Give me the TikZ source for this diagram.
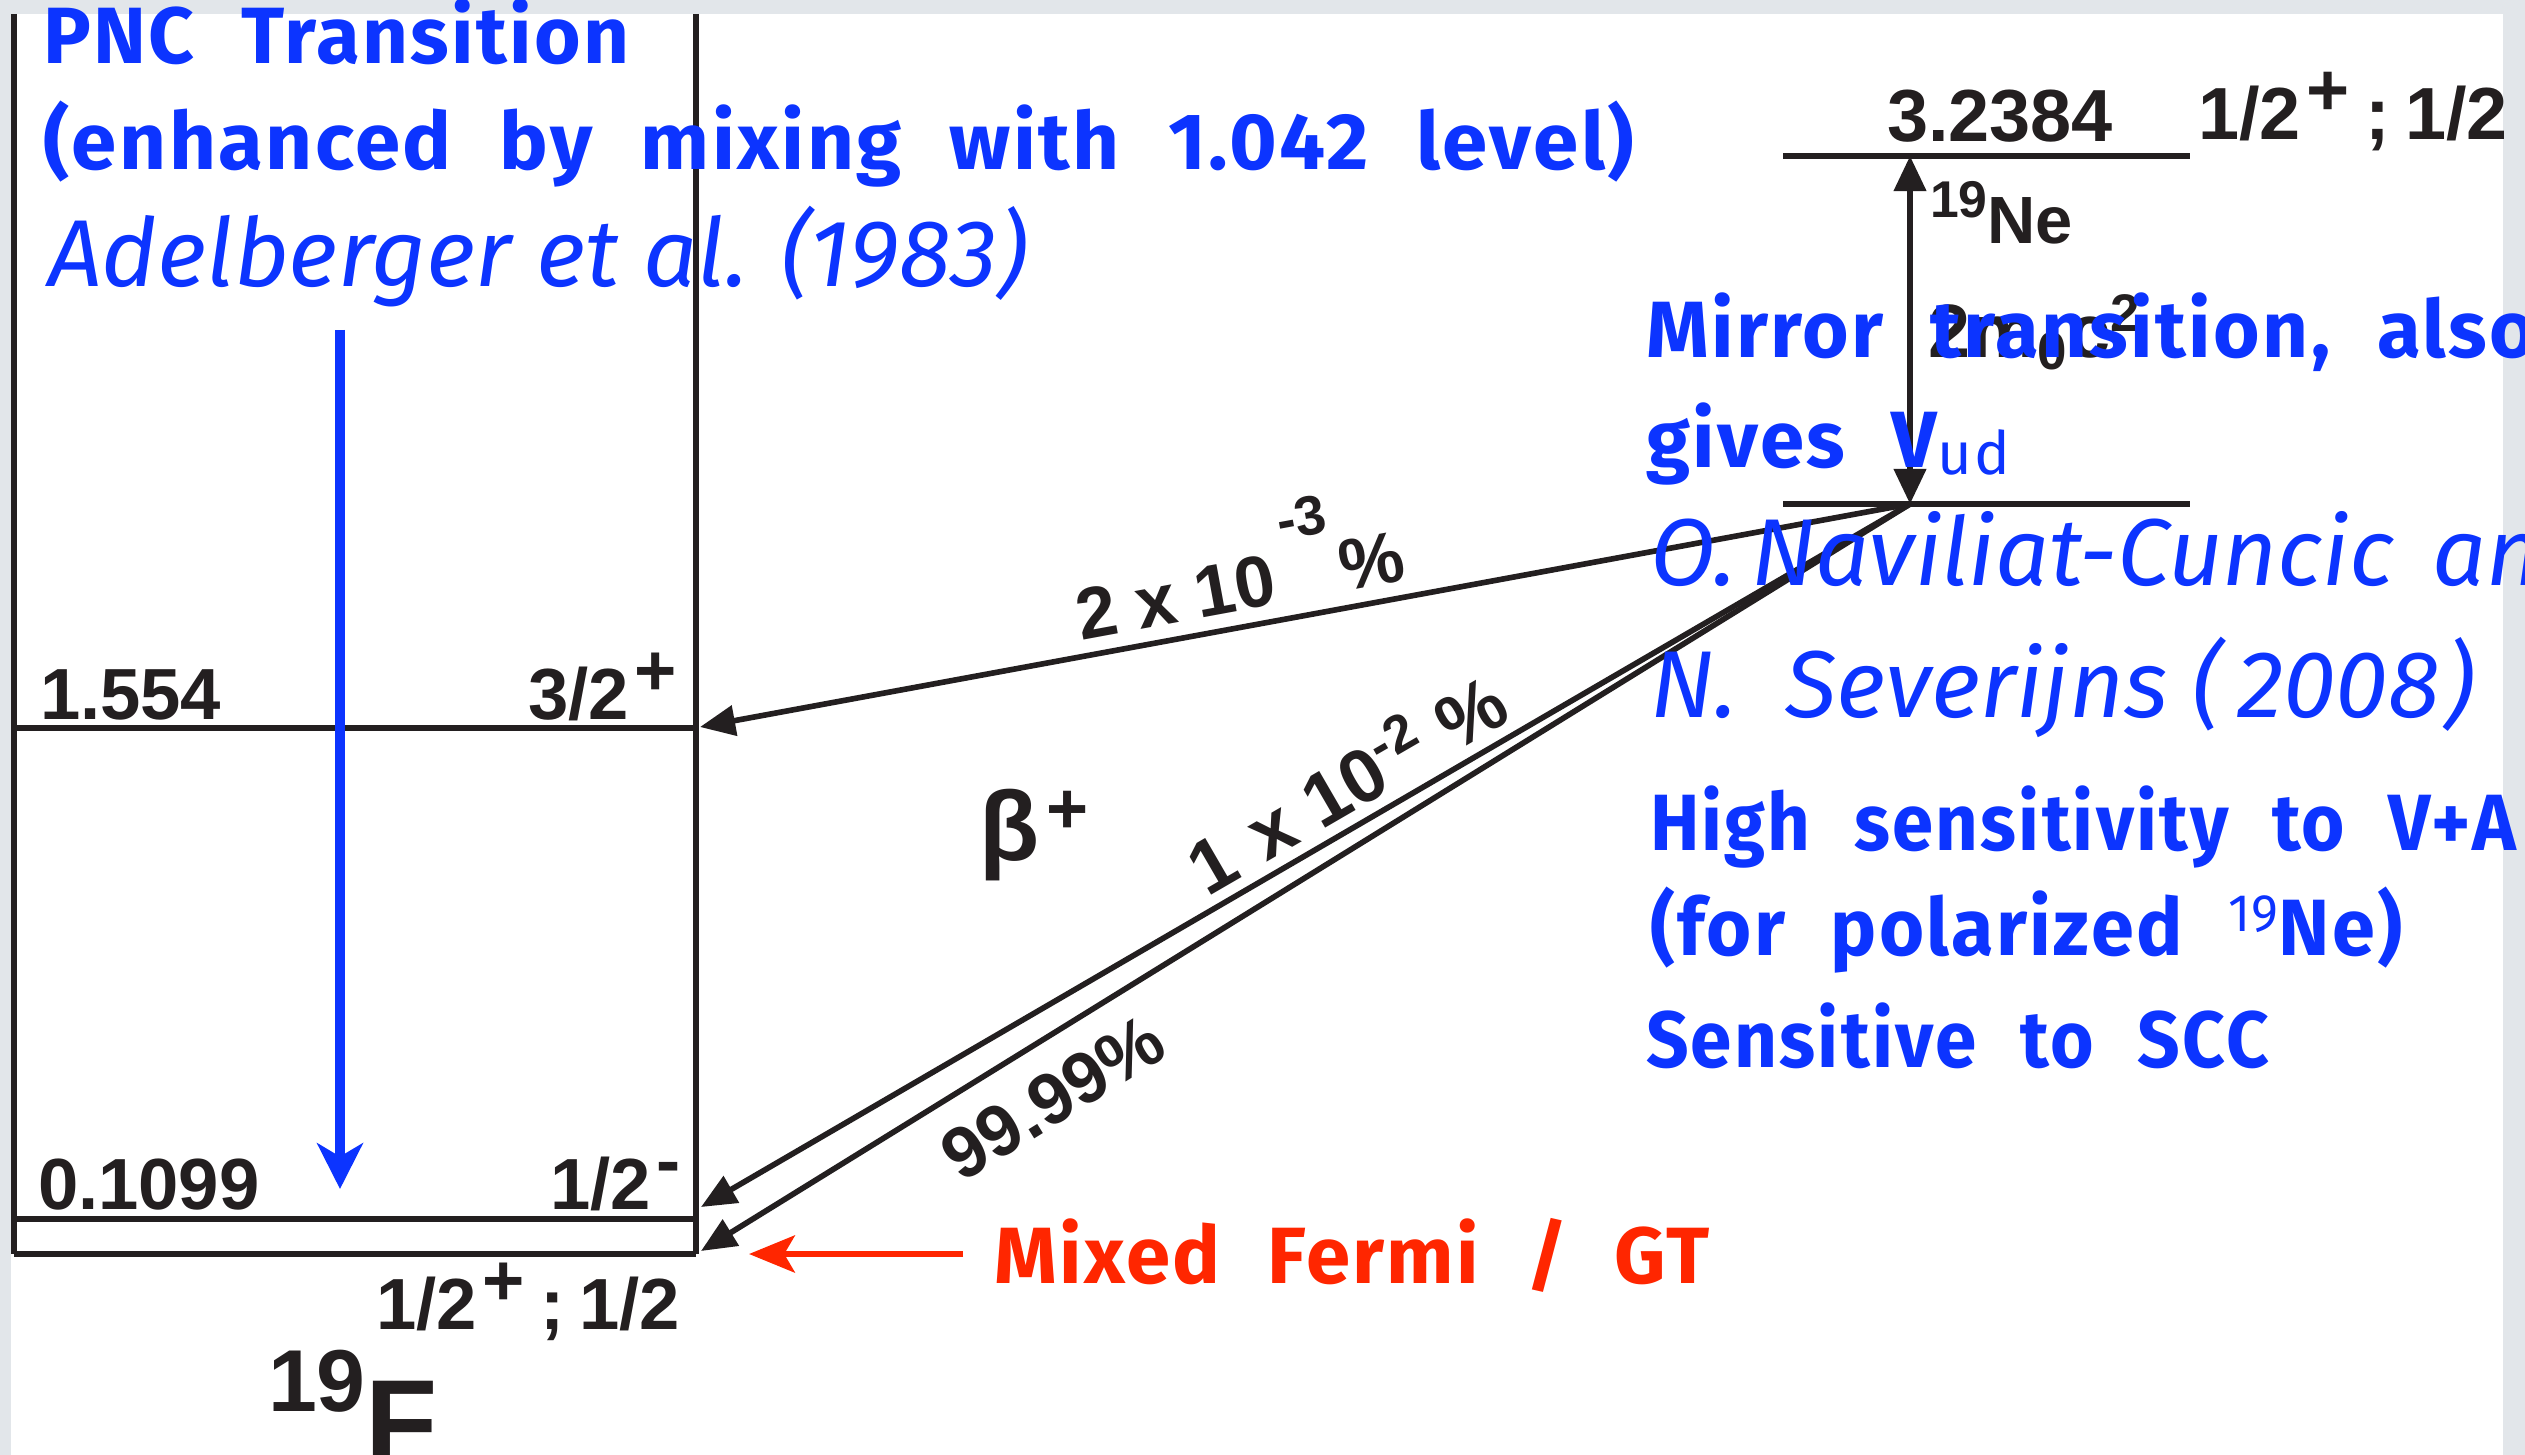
\documentclass[tikz,border=0pt]{standalone}
\usepackage{fontspec}
\setmainfont{Liberation Sans}
\newfontfamily\chalk{Fira Sans}[LetterSpace=3, WordSpace=2.2]
\newfontfamily\hand{Fira Sans}[LetterSpace=0, WordSpace=1.7]
\newfontfamily\handtight{Fira Sans}[LetterSpace=0, WordSpace=1.0]
\usetikzlibrary{arrows.meta}
\definecolor{bggray}{RGB}{226,230,234}
\definecolor{cblue}{RGB}{12,52,255}
\definecolor{cred}{RGB}{255,38,0}
\definecolor{ink}{RGB}{35,31,32}
\newcommand\fpt[1]{\fontsize{#1}{#1}\selectfont}
\newcommand\rsup[1]{\hspace{0.08em}\raisebox{0.33em}{#1}}
\newcommand\hsc[2]{\scalebox{#1}[1]{#2}}
\tikzset{
  lvl/.style={draw=ink, line width=1.9pt},
  trans/.style={draw=ink, line width=1.6pt, -{Triangle[length=10pt,width=8.5pt]}},
  lbl/.style={inner sep=0pt, outer sep=0pt, text=ink, font=\bfseries\fpt{20.6}},
  chalktxt/.style={inner sep=0pt, outer sep=0pt, anchor=base west, text=cblue, font=\chalk\bfseries\fpt{22.7}},
  handtxt/.style={inner sep=0pt, outer sep=0pt, anchor=base west, text=cblue, font=\hand\itshape\fpt{27}},
}
\begin{document}
\begin{tikzpicture}[x=0.01cm,y=-0.01cm]
\useasboundingbox (0,0) rectangle (2525,1455);
\fill[bggray] (0,0) rectangle (2525,1455);
\fill[white] (11,14) rectangle (2503,1455);
\begin{scope}
\clip (11,14) rectangle (2503,1455);
\coordinate (LT) at (14,14); \coordinate (LB) at (14,1254);
\coordinate (RT) at (696,14); \coordinate (RB) at (696,1254);
\coordinate (A1) at (14,728); \coordinate (B1) at (696,728);
\coordinate (A2) at (14,1219); \coordinate (B2) at (696,1219);
\coordinate (NeTL) at (1783,156); \coordinate (NeTR) at (2190,156);
\coordinate (NeBL) at (1783,504); \coordinate (NeBR) at (2190,504);
\coordinate (O) at (1910,504);
\coordinate (Otop) at (1910,156);
\coordinate (T1) at (700,727);
\coordinate (T2) at (701,1207);
\coordinate (T3) at (701,1251);
\draw[lvl] (LT) -- (LB);
\draw[lvl] (RT) -- (RB);
\draw[lvl] (A1) -- (B1);
\draw[lvl] (A2) -- (B2);
\draw[lvl] (LB) -- (RB);
\draw[lvl] (NeTL) -- (NeTR);
\draw[lvl] (NeBL) -- (NeBR);
\draw[ink, line width=1.6pt, {Triangle[length=10pt,width=9pt]}-{Triangle[length=10pt,width=9pt]}] (Otop) -- (O);
\draw[trans] (O) -- (T1);
\draw[trans] (O) -- (T2);
\draw[trans] (O) -- (T3);
% labels
\node[lbl, anchor=base west] (e1554) at (40,719) {1.554};
\node[lbl, anchor=base east] (j32) at (677,719) {3/2\rsup{+}};
\node[lbl, anchor=base west] (e0109) at (38,1209) {0.1099};
\node[lbl, anchor=base east] (j12m) at (681,1209) {1/2\rsup{-}};
\node[lbl, anchor=base west] (j12g) at (376,1329) {1/2\rsup{+}\hspace{.22em};\hspace{.2em}1/2};
\node[lbl, anchor=base west] (nucF) at (268,1411) {\fpt{25}19\fpt{33.6}\raisebox{-14.5pt}{F}};
\node[lbl, anchor=base west, font=\bfseries\fpt{21}] (e32384) at (1887,142) {3.2384};
\node[lbl, anchor=base west, font=\bfseries\fpt{21}] (jNe) at (2198,140) {1/2\rsup{+}\hspace{.22em};\hspace{.2em}1/2};
\node[lbl, anchor=base west] (nucNe) at (1930,244) {\raisebox{7.4pt}{\fpt{14.7}19}\fpt{19}Ne};
\node[lbl, anchor=base west, font=\bfseries\fpt{21.5}] (mc2) at (1928,358) {2m\textsubscript{0}c\textsuperscript{2}};
\node[lbl, rotate=10.45, anchor=base west] (bT1) at (1081,640) {2 x 10\hspace{0.17em}\raisebox{0.85em}{\fpt{15.8}-3}\hspace{0.06em}\%};
\node[lbl, rotate=30.1, anchor=base west, font=\bfseries\fpt{21.5}] (bT2) at (1207,897) {1\hspace{0.08em} x 10\textsuperscript{-2}\hspace{0.3em}\%};
\node[lbl, rotate=31.7, anchor=center] (bT3) at (1053,1098) {99.99\%};
\node[lbl, anchor=base west] (beta) at (979,860) {\fpt{28}β\hspace{0.08em}\raisebox{7.6pt}{\fpt{20.5}+}};
\end{scope}
% annotations
\coordinate (pncA) at (340,330); \coordinate (pncB) at (340,1189);
\draw[cblue, line width=2.7pt, -{Stealth[length=13pt,width=13pt,inset=3.8pt]}] (pncA) -- (pncB);
\coordinate (redA) at (963,1254); \coordinate (redB) at (749,1254);
\draw[cred, line width=1.9pt, -{Stealth[length=13pt,width=10.5pt,inset=3pt]}] (redA) -- (redB);
\node[chalktxt] (pnc) at (43,64) {PNC Transition};
\node[chalktxt] (enh) at (43,170) {\hsc{1.023}{(enhanced by mixing with 1.042 level)}};
\node[handtxt, font=\handtight\itshape\fpt{27}] (adel) at (48,287) {Adelberger et al. (1983)};
\node[chalktxt] (mir) at (1646,358) {Mirror transition, also};
\node[chalktxt] (giv) at (1646,467) {gives V\raisebox{-2pt}{\mdseries\fpt{17}ud}};
\node[handtxt] (nav) at (1650,585) {O.\hspace{-0.1em} Naviliat-Cuncic\hspace{0.15em} and};
\node[handtxt] (sev) at (1650,717) {N.\hspace{0.25em} Severijns (\hspace{0.15em}2008\hspace{0.05em})};
\node[chalktxt] (hig) at (1650,850) {\hsc{0.93}{High sensitivity to V+A}};
\node[chalktxt] (pol) at (1650,955) {\hsc{0.97}{(for polarized \raisebox{0.3em}{\mdseries\fpt{15}19}Ne)}};
\node[chalktxt] (scc) at (1646,1067) {\hsc{0.935}{Sensitive to SCC}};
\node[chalktxt, text=cred] (mix) at (994,1283) {Mixed Fermi / GT};
\end{tikzpicture}
\end{document}
